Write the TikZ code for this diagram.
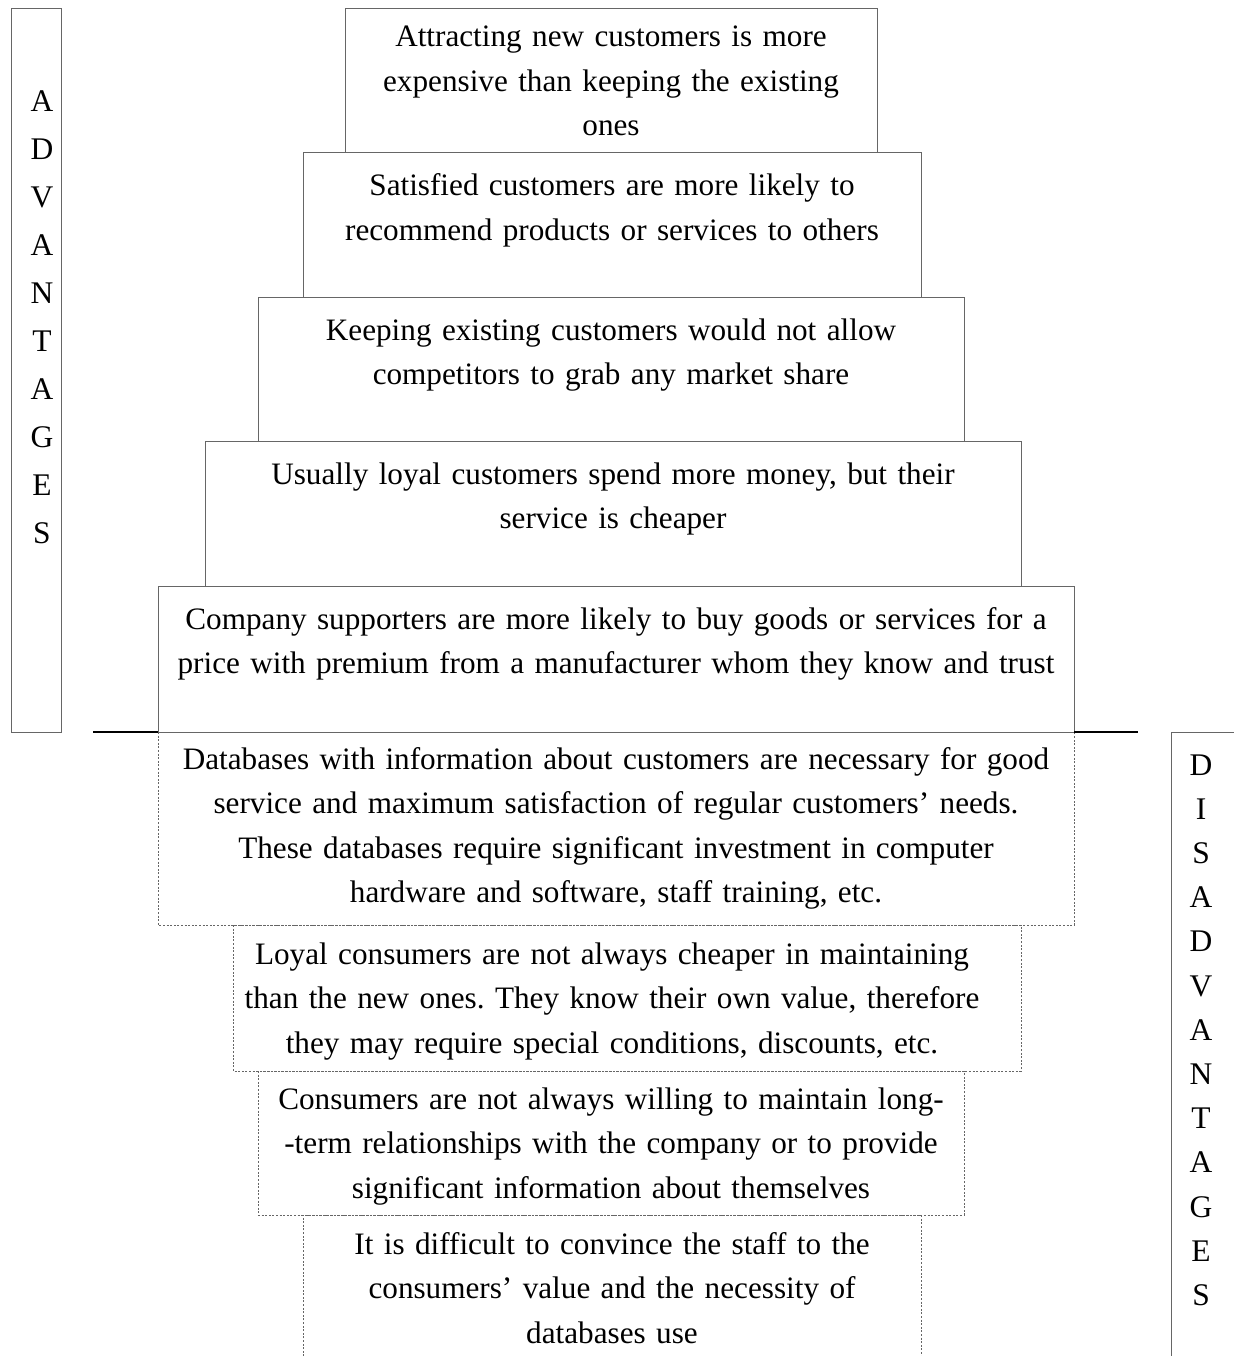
\documentclass[tikz,border=0pt]{standalone}
\usepackage{fontspec}
\setmainfont{Liberation Serif}
\frenchspacing
\begin{document}
\begin{tikzpicture}[x=1pt,y=-1pt,
  solidbox/.style={draw=black!60, line width=0.9pt},
  dotbox/.style={draw=black!60, line width=0.8pt, dash pattern=on 2pt off 1.6pt},
  sepline/.style={draw=black, line width=2pt},
  txt/.style={font=\fontsize{31.2}{44.5}\selectfont, text width=#1, align=center,
              inner sep=0pt, anchor=base},
  vlabel/.style={font=\fontsize{31.5}{#1}\selectfont, text width=40pt, align=center,
              inner sep=0pt, anchor=base}]
\useasboundingbox (0,0) rectangle (1233,1356);

% side captions
\draw[solidbox] (11,8) rectangle (61,732);
\node[vlabel=47.9] (adv) at (42,112) {A\\D\\V\\A\\N\\T\\A\\G\\E\\S};
\draw[solidbox] (1240,732) -- (1171,732) -- (1171,1360);
\node[vlabel=44.2] (dis) at (1201,775) {D\\I\\S\\A\\D\\V\\A\\N\\T\\A\\G\\E\\S};

% advantages (solid frames)
\draw[solidbox] (345,8) rectangle (877,152);
\node[txt=520pt] (a1) at (611,47) {Attracting new customers is more\\expensive than keeping the existing\\ones};
\draw[solidbox] (303,152) rectangle (921,297);
\node[txt=610pt] (a2) at (612,196) {Satisfied customers are more likely to\\recommend products or services to others};
\draw[solidbox] (258,297) rectangle (964,441);
\node[txt=700pt] (a3) at (611,340) {Keeping existing customers would not allow\\competitors to grab any market share};
\draw[solidbox] (205,441) rectangle (1021,586);
\node[txt=810pt] (a4) at (613,484) {Usually loyal customers spend more money, but their\\service is cheaper};
\draw[solidbox] (158,586) rectangle (1074,732);
\node[txt=910pt] (a5) at (616,629) {Company supporters are more likely to buy goods or services for a\\price with premium from a manufacturer whom they know and trust};

% disadvantages (dotted frames)
\draw[dotbox] (158,732) rectangle (1074,925);
\node[txt=910pt] (d1) at (616,769) {Databases with information about customers are necessary for good\\service and maximum satisfaction of regular customers’ needs.\\These databases require significant investment in computer\\hardware and software, staff training, etc.};
\draw[dotbox] (233,925) rectangle (1021,1071);
\node[txt=780pt] (d2) at (612,964) {Loyal consumers are not always cheaper in maintaining\\than the new ones. They know their own value, therefore\\they may require special conditions, discounts, etc.};
\draw[dotbox] (258,1071) rectangle (964,1215);
\node[txt=700pt] (d3) at (611,1109) {Consumers are not always willing to maintain long-\\-term relationships with the company or to provide\\significant information about themselves};
\draw[dotbox] (303,1360) -- (303,1215) -- (921,1215) -- (921,1360);
\node[txt=610pt] (d4) at (612,1254) {It is difficult to convince the staff to the\\consumers’ value and the necessity of\\databases use};

% dividing line between the two halves
\coordinate (sl1) at (93,732);
\coordinate (sr2) at (1138,732);
\draw[sepline] (sl1) -- (158,732);
\draw[sepline] (1074,732) -- (sr2);
\end{tikzpicture}
\end{document}
